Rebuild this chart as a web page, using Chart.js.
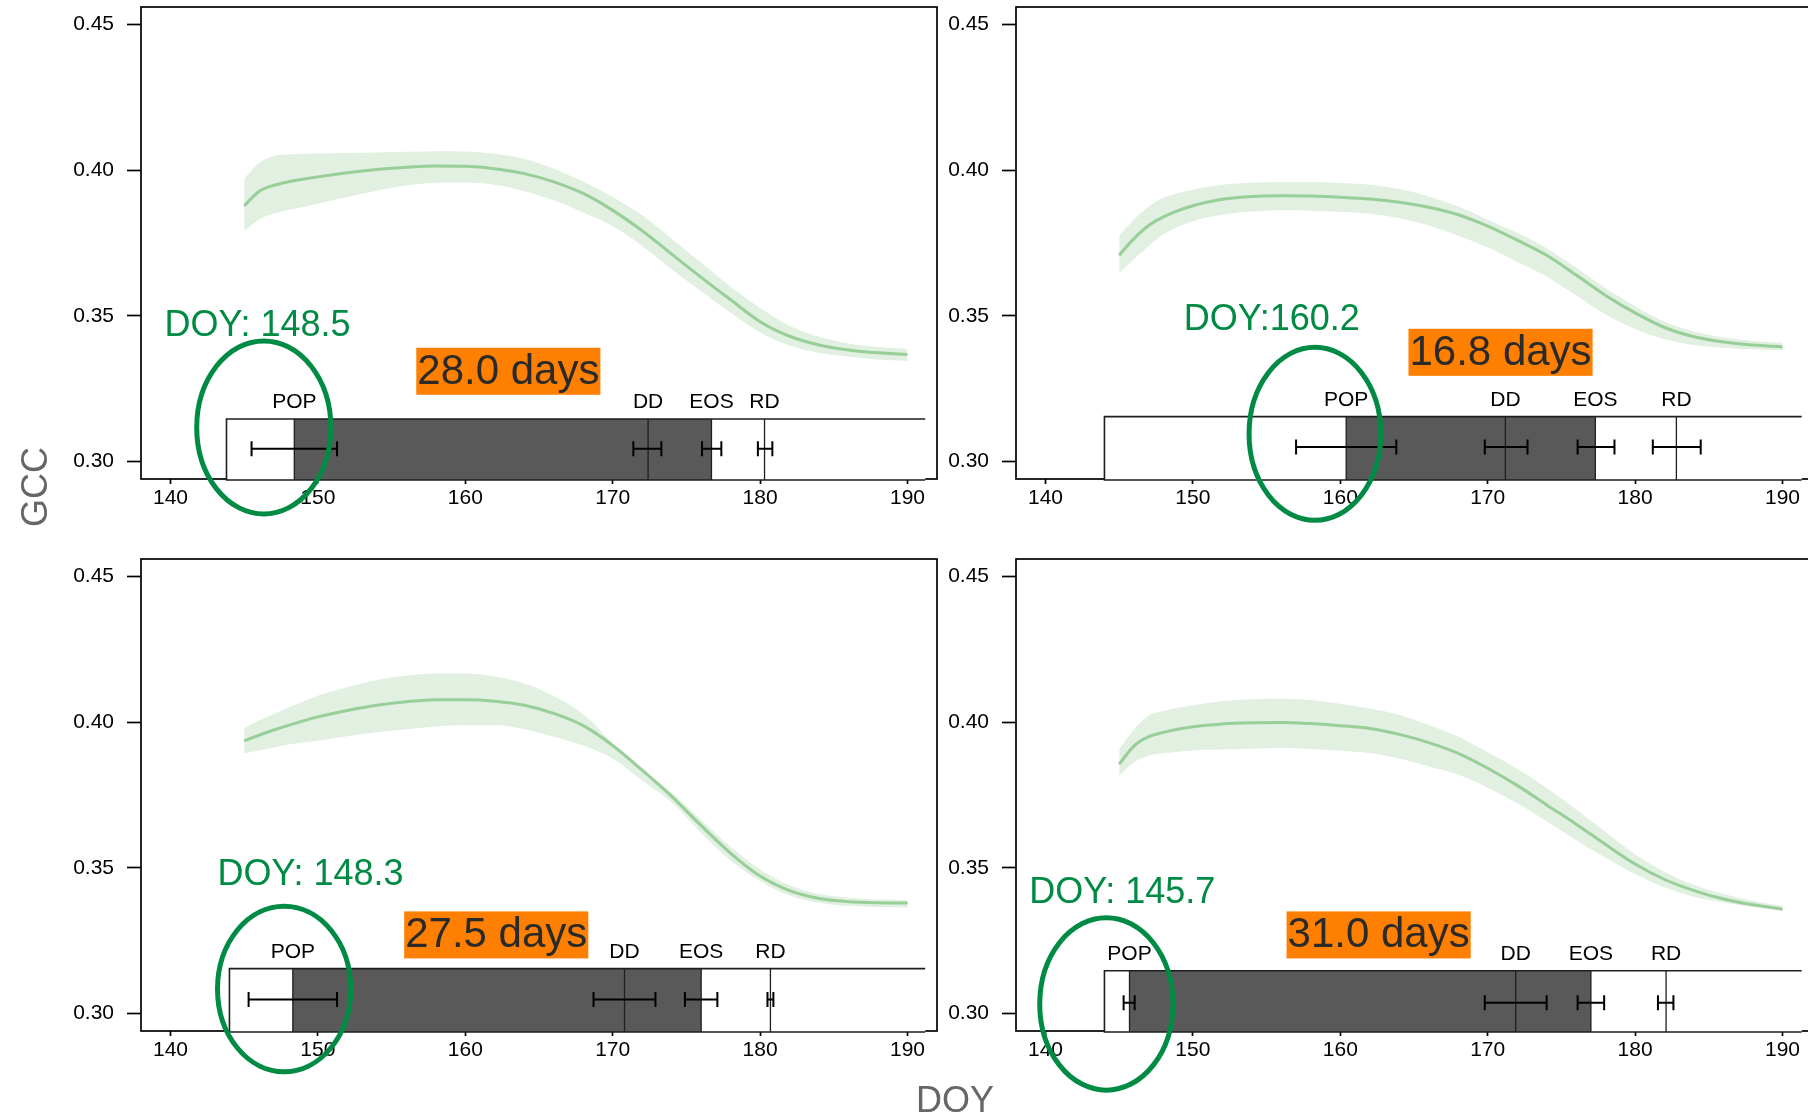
<!DOCTYPE html>
<html>
<head>
<meta charset="utf-8">
<title>GCC phenology panels</title>
<script src="https://cdn.jsdelivr.net/npm/chart.js@4.4.1/dist/chart.umd.min.js"></script>
<style>
    body { margin: 0; background: #ffffff; }
    #wrap {
        position: relative;
        width: 1808px;
        height: 1117px;
        overflow: hidden;
        background: #ffffff;
        font-family: 'Liberation Sans', Arial, sans-serif;
    }
    canvas { position: absolute; }
    .axis-title {
        position: absolute;
        color: #666666;
        font-size: 36px;
        line-height: 1;
        white-space: nowrap;
    }
    #gcc-title { left: 35px; top: 487px; transform: translate(-50%, -50%) rotate(-90deg); }
    #doy-title { left: 955px; top: 1100px; transform: translate(-50%, -50%); }
</style>
</head>
<body>
<div id="wrap">
    <canvas id="panel-0" width="940" height="551" style="left:0px;top:0px"></canvas>
    <canvas id="panel-1" width="940" height="551" style="left:875px;top:0px"></canvas>
    <canvas id="panel-2" width="940" height="565" style="left:0px;top:552px"></canvas>
    <canvas id="panel-3" width="940" height="565" style="left:875px;top:552px"></canvas>
    <div class="axis-title" id="gcc-title">GCC</div>
    <div class="axis-title" id="doy-title">DOY</div>
</div>
<script>
// day of year where the fitted curve is sampled
const doy = [145, 146, 147, 148, 150, 152, 154, 156, 158, 160, 162, 164, 166,
    168, 170, 172, 174, 176, 178, 180, 182, 184, 186, 188, 190];

// panel a (top left)
const gcc_mid_a = [0.3877, 0.3927, 0.3948, 0.3960, 0.3977, 0.3991, 0.4002, 0.4010, 0.4014, 0.4013, 0.4005, 0.3988, 0.3960,
    0.3920, 0.3862, 0.3792, 0.3712, 0.3632, 0.3555, 0.3480, 0.3430, 0.3400, 0.3383, 0.3373, 0.3367];
const gcc_up_a = [0.3971, 0.4025, 0.4049, 0.4054, 0.4057, 0.4059, 0.4061, 0.4063, 0.4065, 0.4064, 0.4056, 0.4038, 0.4005,
    0.3960, 0.3908, 0.3845, 0.3765, 0.3682, 0.3600, 0.3527, 0.3466, 0.3428, 0.3405, 0.3393, 0.3387];
const gcc_low_a = [0.3791, 0.3830, 0.3851, 0.3863, 0.3885, 0.3908, 0.3929, 0.3948, 0.3957, 0.3958, 0.3950, 0.3928, 0.3897,
    0.3855, 0.3808, 0.3740, 0.3660, 0.3584, 0.3510, 0.3444, 0.3398, 0.3373, 0.3360, 0.3350, 0.3345];

// panel b (top right)
const gcc_mid_b = [0.3708, 0.3765, 0.3810, 0.3840, 0.3878, 0.3900, 0.3910, 0.3912, 0.3911, 0.3907, 0.3901, 0.3890, 0.3873,
    0.3847, 0.3808, 0.3760, 0.3708, 0.3640, 0.3570, 0.3510, 0.3460, 0.3428, 0.3410, 0.3400, 0.3393];
const gcc_up_b = [0.3776, 0.3830, 0.3875, 0.3905, 0.3933, 0.3950, 0.3957, 0.3959, 0.3959, 0.3956, 0.3950, 0.3935, 0.3910,
    0.3875, 0.3830, 0.3785, 0.3732, 0.3665, 0.3595, 0.3533, 0.3480, 0.3446, 0.3426, 0.3414, 0.3408];
const gcc_low_b = [0.3645, 0.3695, 0.3740, 0.3780, 0.3825, 0.3847, 0.3858, 0.3862, 0.3861, 0.3857, 0.3850, 0.3835, 0.3810,
    0.3775, 0.3735, 0.3685, 0.3635, 0.3570, 0.3505, 0.3455, 0.3420, 0.3400, 0.3390, 0.3385, 0.3382];

// panel c (bottom left)
const gcc_mid_c = [0.3936, 0.3955, 0.3973, 0.3989, 0.4018, 0.4040, 0.4058, 0.4070, 0.4077, 0.4077, 0.4072, 0.4058, 0.4030,
    0.3988, 0.3920, 0.3835, 0.3745, 0.3645, 0.3550, 0.3472, 0.3422, 0.3395, 0.3384, 0.3380, 0.3379];
const gcc_up_c = [0.3980, 0.4006, 0.4028, 0.4050, 0.4091, 0.4120, 0.4145, 0.4160, 0.4167, 0.4167, 0.4157, 0.4133, 0.4090,
    0.4028, 0.3928, 0.3838, 0.3758, 0.3665, 0.3572, 0.3495, 0.3440, 0.3410, 0.3397, 0.3391, 0.3389];
const gcc_low_c = [0.3893, 0.3903, 0.3913, 0.3923, 0.3936, 0.3952, 0.3965, 0.3976, 0.3985, 0.3989, 0.3989, 0.3976, 0.3950,
    0.3920, 0.3875, 0.3800, 0.3725, 0.3620, 0.3525, 0.3455, 0.3405, 0.3380, 0.3369, 0.3366, 0.3364];

// panel d (bottom right)
const gcc_mid_d = [0.3856, 0.3918, 0.3950, 0.3965, 0.3984, 0.3994, 0.3998, 0.3999, 0.3995, 0.3988, 0.3978, 0.3958, 0.3930,
    0.3893, 0.3842, 0.3783, 0.3716, 0.3650, 0.3580, 0.3513, 0.3460, 0.3422, 0.3393, 0.3373, 0.3358];
const gcc_up_d = [0.3907, 0.3975, 0.4022, 0.4038, 0.4058, 0.4072, 0.4079, 0.4081, 0.4076, 0.4063, 0.4047, 0.4025, 0.3990,
    0.3950, 0.3897, 0.3840, 0.3774, 0.3700, 0.3623, 0.3547, 0.3487, 0.3441, 0.3410, 0.3386, 0.3370];
const gcc_low_d = [0.3816, 0.3862, 0.3885, 0.3893, 0.3903, 0.3906, 0.3909, 0.3911, 0.3908, 0.3902, 0.3894, 0.3875, 0.3848,
    0.3820, 0.3775, 0.3722, 0.3660, 0.3595, 0.3535, 0.3478, 0.3433, 0.3400, 0.3381, 0.3365, 0.3353];

const x_ticks = [140, 150, 160, 170, 180, 190];
const y_ticks = [0.30, 0.35, 0.40, 0.45];

// phenology bar, one entry per panel (DOY)
const phase_names = ['POP', 'DD', 'EOS', 'RD'];
const bar_start = [143.8, 144.0, 144.0, 144.0];
const bar_end = [191.2, 191.3, 191.2, 191.3];
const pop_doy = [148.4, 160.4, 148.3, 145.7];
const dd_doy = [172.4, 171.2, 170.8, 171.9];
const eos_doy = [176.7, 177.3, 176.0, 177.0];
const rd_doy = [180.3, 182.8, 180.7, 182.1];
const pop_err = [[145.5, 151.3], [157.0, 163.8], [145.3, 151.3], [145.3, 146.05]];
const dd_err = [[171.4, 173.3], [169.8, 172.7], [168.7, 172.9], [169.8, 174.0]];
const eos_err = [[176.06, 177.37], [176.1, 178.6], [174.9, 177.1], [176.1, 177.9]];
const rd_err = [[179.85, 180.83], [181.2, 184.45], [180.5, 180.9], [181.55, 182.6]];

// bar rows in GCC units
const bar_top_gcc = [0.3146, 0.3154, 0.3154, 0.3147];
const err_gcc = [0.3044, 0.3050, 0.3048, 0.3037];
const phase_label_gcc = [0.3182, 0.3190, 0.3190, 0.3182];

// annotations
const doy_labels = ['DOY: 148.5', 'DOY:160.2', 'DOY: 148.3', 'DOY: 145.7'];
const doy_label_x = [145.9, 155.35, 149.5, 145.21];
const doy_label_gcc = [0.3430, 0.3450, 0.3442, 0.3378];
const days_labels = ['28.0 days', '16.8 days', '27.5 days', '31.0 days'];
const days_label_x = [162.92, 170.87, 162.1, 162.6];
const days_label_gcc = [0.3267, 0.3332, 0.3227, 0.3227];
const ring_x = [146.33, 158.28, 147.71, 144.13];
const ring_gcc = [0.3117, 0.3095, 0.3084, 0.3033];
const ring_rx = [4.55, 4.47, 4.52, 4.52];
const ring_ry = [0.0297, 0.0297, 0.0284, 0.0296];

const mids = [gcc_mid_a, gcc_mid_b, gcc_mid_c, gcc_mid_d];
const ups = [gcc_up_a, gcc_up_b, gcc_up_c, gcc_up_d];
const lows = [gcc_low_a, gcc_low_b, gcc_low_c, gcc_low_d];

const FONT = "'Liberation Sans', Arial, sans-serif";
const GREEN = '#008B45';
const PLOT_BOTTOM = 479;

Chart.defaults.font.family = FONT;
Chart.defaults.color = '#000000';

function to_points(values) {
    let points = [];
    for (let i = 0; i < doy.length; ++i) {
        points.push({ x: doy[i], y: values[i] });
    }
    return points;
}

function draw_error_bar(ctx, x1, x2, y) {
    const cap = 7.5;
    ctx.beginPath();
    ctx.moveTo(x1, y);
    ctx.lineTo(x2, y);
    ctx.moveTo(x1, y - cap);
    ctx.lineTo(x1, y + cap);
    ctx.moveTo(x2, y - cap);
    ctx.lineTo(x2, y + cap);
    ctx.stroke();
}

function draw_panel_extras(chart, i) {
    const ctx = chart.ctx;
    const area = chart.chartArea;
    const px = v => chart.scales.x.getPixelForValue(v);
    const py = v => chart.scales.y.getPixelForValue(v);

    ctx.save();

    // plot box
    ctx.strokeStyle = '#000000';
    ctx.lineWidth = 1.7;
    ctx.strokeRect(area.left, area.top, area.right - area.left, area.bottom - area.top);

    // phenology bar
    const top = py(bar_top_gcc[i]);
    const bottom = area.bottom + 1;
    const left = px(bar_start[i]);
    const right = px(bar_end[i]);
    ctx.fillStyle = '#ffffff';
    ctx.fillRect(left, top, right - left, bottom - top);
    ctx.fillStyle = '#595959';
    ctx.fillRect(px(pop_doy[i]), top, px(eos_doy[i]) - px(pop_doy[i]), bottom - top);

    ctx.strokeStyle = '#1e1e1e';
    ctx.lineWidth = 1.6;
    ctx.beginPath();
    ctx.moveTo(right, top);
    ctx.lineTo(left, top);
    ctx.lineTo(left, bottom);
    ctx.lineTo(right, bottom);
    ctx.stroke();

    const phase_doy = [pop_doy[i], dd_doy[i], eos_doy[i], rd_doy[i]];
    ctx.lineWidth = 1.3;
    for (const d of phase_doy) {
        ctx.beginPath();
        ctx.moveTo(px(d), top);
        ctx.lineTo(px(d), bottom);
        ctx.stroke();
    }

    // phase labels
    ctx.fillStyle = '#000000';
    ctx.font = '21px ' + FONT;
    ctx.textAlign = 'center';
    ctx.textBaseline = 'alphabetic';
    for (let k = 0; k < phase_names.length; ++k) {
        ctx.fillText(phase_names[k], px(phase_doy[k]), py(phase_label_gcc[i]));
    }

    // error bars
    ctx.strokeStyle = '#000000';
    ctx.lineWidth = 2;
    const ey = py(err_gcc[i]);
    for (const e of [pop_err[i], dd_err[i], eos_err[i], rd_err[i]]) {
        draw_error_bar(ctx, px(e[0]), px(e[1]), ey);
    }

    // DOY annotation
    ctx.fillStyle = GREEN;
    ctx.font = '36px ' + FONT;
    ctx.fillText(doy_labels[i], px(doy_label_x[i]), py(doy_label_gcc[i]));

    // duration label on orange
    const fs = 42;
    ctx.font = fs + 'px ' + FONT;
    const w = ctx.measureText(days_labels[i]).width;
    const cx = px(days_label_x[i]);
    const base = py(days_label_gcc[i]);
    ctx.fillStyle = '#FF7F00';
    ctx.fillRect(cx - w / 2 - 1, base - 0.857 * fs, w + 2, 1.12 * fs);
    ctx.fillStyle = '#2a2a2a';
    ctx.fillText(days_labels[i], cx, base);

    // ring around POP
    const rcx = px(ring_x[i]);
    const rcy = py(ring_gcc[i]);
    const rx = px(ring_x[i] + ring_rx[i]) - rcx;
    const ry = py(ring_gcc[i] - ring_ry[i]) - rcy;
    ctx.strokeStyle = GREEN;
    ctx.lineWidth = 5;
    ctx.beginPath();
    ctx.ellipse(rcx, rcy, rx, ry, 0, 0, Math.PI * 2);
    ctx.stroke();

    ctx.restore();
}

const extras_plugin = {
    id: 'extras',
    afterDatasetsDraw(chart, args, opts) {
        draw_panel_extras(chart, opts.index);
    }
};

function build_panel(i) {
    const canvas = document.getElementById('panel-' + i);
    const h = canvas.height;
    const data = {
        datasets: [
            {
                data: to_points(ups[i]),
                borderWidth: 0,
                pointRadius: 0,
                backgroundColor: '#E1F0E1',
                fill: '+1',
                cubicInterpolationMode: 'monotone',
                order: 1
            },
            {
                data: to_points(lows[i]),
                borderWidth: 0,
                pointRadius: 0,
                fill: false,
                cubicInterpolationMode: 'monotone',
                order: 2
            },
            {
                data: to_points(mids[i]),
                borderColor: '#98CE98',
                borderWidth: 3,
                pointRadius: 0,
                fill: false,
                cubicInterpolationMode: 'monotone',
                order: 0
            }
        ]
    };
    const config = {
        type: 'line',
        data,
        options: {
            responsive: false,
            animation: false,
            devicePixelRatio: 1,
            layout: { padding: { left: 0, top: 7, right: 3, bottom: 0 } },
            plugins: {
                legend: { display: false },
                tooltip: { enabled: false },
                extras: { index: i }
            },
            scales: {
                x: {
                    type: 'linear',
                    min: 138,
                    max: 192,
                    afterBuildTicks: s => { s.ticks = x_ticks.map(v => ({ value: v })); },
                    afterFit: s => {
                        s.height = h - PLOT_BOTTOM;
                        s.paddingLeft = 0;
                        s.paddingRight = 0;
                    },
                    border: { display: false },
                    grid: { drawOnChartArea: false, tickLength: 5, tickWidth: 1.7, color: '#000000' },
                    ticks: { font: { size: 21 }, color: '#000000', padding: 2, maxRotation: 0, autoSkip: false }
                },
                y: {
                    type: 'linear',
                    min: 0.294,
                    max: 0.456,
                    afterBuildTicks: s => { s.ticks = y_ticks.map(v => ({ value: v })); },
                    afterFit: s => {
                        s.width = 141;
                        s.paddingTop = 0;
                        s.paddingBottom = 0;
                    },
                    border: { display: false },
                    grid: { drawOnChartArea: false, tickLength: 14, tickWidth: 1.7, color: '#000000' },
                    ticks: {
                        font: { size: 21 },
                        color: '#000000',
                        padding: 13,
                        callback: v => Number(v).toFixed(2)
                    }
                }
            }
        },
        plugins: [extras_plugin]
    };
    return new Chart(canvas, config);
}

let charts = [];
for (let i = 0; i < 4; ++i) {
    charts.push(build_panel(i));
}
</script>
</body>
</html>
